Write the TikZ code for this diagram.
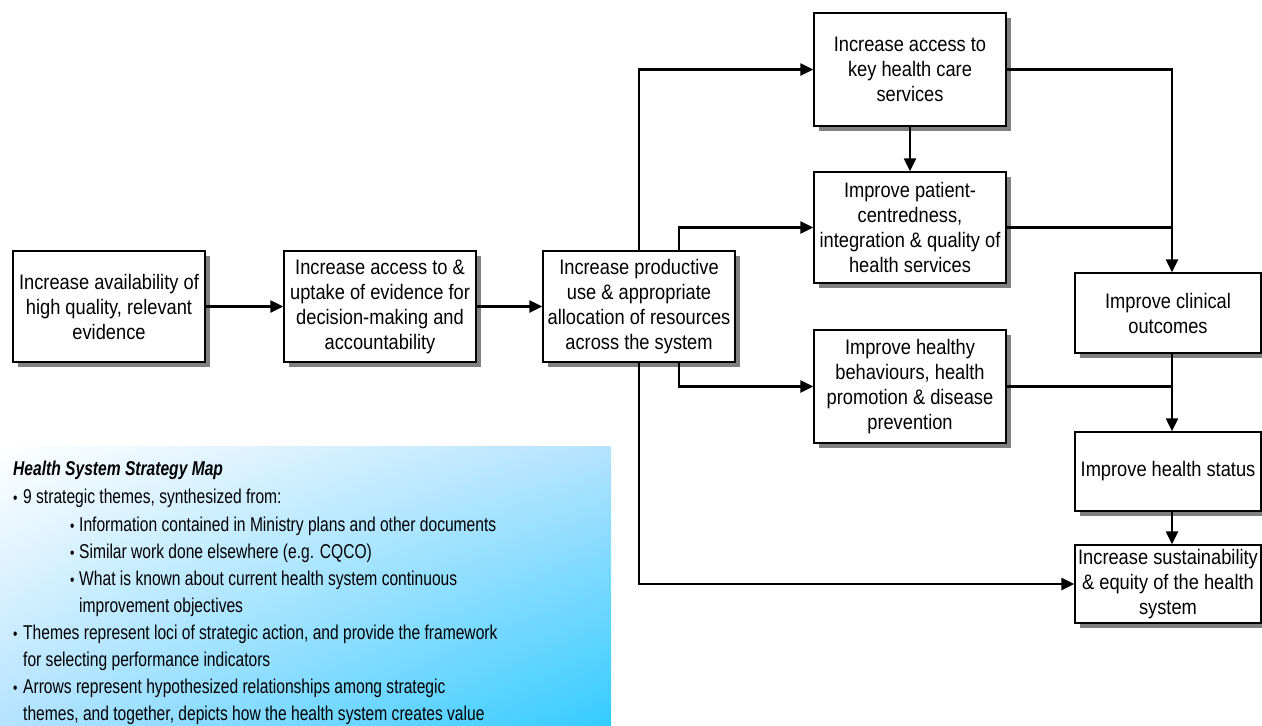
\documentclass[tikz,border=0pt]{standalone}
\usepackage{fontspec}
\setmainfont{Liberation Sans}[FakeStretch=0.87]
\newfontfamily\panelfont{Liberation Sans}[FakeStretch=0.78]
\usetikzlibrary{arrows.meta,shadows,shadings}
\definecolor{pcyan}{RGB}{51,204,255}
\definecolor{plight}{RGB}{180,227,255}
\definecolor{shgray}{RGB}{128,128,128}
\tikzset{
  box/.style={draw, line width=1.3pt, fill=white, align=center, inner sep=0pt,
    font=\fontsize{21}{25}\selectfont,
    drop shadow={shadow xshift=4.5pt, shadow yshift=-4.5pt, fill=shgray, opacity=1}},
  conn/.style={line width=2.2pt},
  arr/.style={conn, -{Triangle[length=13pt,width=12pt]}},
  ptext/.style={anchor=base west, inner sep=0pt, font=\panelfont\fontsize{20}{24}\selectfont},
  pbul/.style={anchor=base west, inner sep=0pt, font=\panelfont\fontsize{16}{18}\selectfont},
}
\begin{document}
\begin{tikzpicture}[x=1pt,y=-1pt]
\useasboundingbox (0,0) rectangle (1262,726);
% panel
\shade[upper left=white, lower right=pcyan, upper right=plight, lower left=plight]
  (0,446) rectangle (611,726);
\node[ptext] (t1) at (13,475) {\bfseries\itshape Health System Strategy Map};
\node[pbul] (b2) at (13,503) {•};
\node[ptext] (t2) at (23,503) {9 strategic themes, synthesized from:};
\node[pbul] (b3) at (70,531) {•};
\node[ptext] (t3) at (79,531) {Information contained in Ministry plans and other documents};
\node[pbul] (b4) at (70,558) {•};
\node[ptext] (t4) at (79,558) {Similar work done elsewhere (e.g. CQCO)};
\node[pbul] (b5) at (70,585) {•};
\node[ptext] (t5) at (79,585) {What is known about current health system continuous};
\node[ptext] (t6) at (79,612) {improvement objectives};
\node[pbul] (b7) at (13,639) {•};
\node[ptext] (t7) at (23,639) {Themes represent loci of strategic action, and provide the framework};
\node[ptext] (t8) at (23,666) {for selecting performance indicators};
\node[pbul] (b9) at (13,693) {•};
\node[ptext] (t9) at (23,693) {Arrows represent hypothesized relationships among strategic};
\node[ptext] (t10) at (23,720) {themes, and together, depicts how the health system creates value};
% boxes
\node[box, minimum width=192pt, minimum height=111pt] (B1) at (109,306.5)
  {Increase availability of\\high quality, relevant\\evidence};
\node[box, minimum width=192pt, minimum height=111pt] (B2) at (380,306.5)
  {Increase access to \&\\uptake of evidence for\\decision-making and\\accountability};
\node[box, minimum width=192pt, minimum height=111pt] (B3) at (639,306.5)
  {Increase productive\\use \& appropriate\\allocation of resources\\across the system};
\node[box, minimum width=192pt, minimum height=113pt] (B4) at (910,69.5)
  {Increase access to\\key health care\\services};
\node[box, minimum width=192pt, minimum height=111pt] (B5) at (910,227.5)
  {Improve patient-\\centredness,\\integration \& quality of\\health services};
\node[box, minimum width=192pt, minimum height=113pt] (B6) at (910,386.5)
  {Improve healthy\\behaviours, health\\promotion \& disease\\prevention};
\node[box, minimum width=186pt, minimum height=80pt] (B7) at (1168,313)
  {Improve clinical\\outcomes};
\node[box, minimum width=186pt, minimum height=79pt] (B8) at (1168,471.5)
  {Improve health status};
\node[box, minimum width=186pt, minimum height=78pt] (B9) at (1168,584)
  {Increase sustainability\\\& equity of the health\\system};
% junction column
\coordinate (jx) at (1172,0);
\coordinate (t3x) at (679,0);
% connectors
\draw[arr] (B1.east) -- (B2.west);
\draw[arr] (B2.east) -- (B3.west);
\draw[arr] (B3.north) |- (B4.west);
\draw[arr] (B3.north -| t3x) |- (B5.west);
\draw[arr] (B4.south) -- (B5.north);
\draw[arr] (B4.east) -| (B7.north -| jx);
\draw[conn] (B5.east) -- (B5.east -| jx);
\draw[conn] (B6.east) -- (B6.east -| jx);
\draw[arr] (B7.south -| jx) -- (B8.north -| jx);
\draw[arr] (B8.south -| jx) -- (B9.north -| jx);
\draw[arr] (B3.south -| t3x) |- (B6.west);
\draw[arr] (B3.south) |- (B9.west);
\end{tikzpicture}
\end{document}
